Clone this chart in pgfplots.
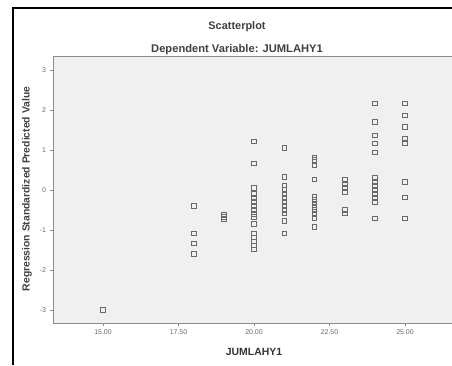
\documentclass[border=0pt]{standalone}
\usepackage{fontspec}
\setmainfont{Liberation Sans}
\usepackage{pgfplots}
\pgfplotsset{compat=1.18}
\usepackage{pgfplotstable}
\definecolor{plotbg}{HTML}{F0F0F0}
\definecolor{axisgray}{HTML}{8C8C8C}
\definecolor{markgray}{HTML}{6A6A6A}
\definecolor{ticktext}{HTML}{6A6A6A}
\pgfplotstableread{
x y
15 -3.00
18 -0.39
18 -1.08
18 -1.33
18 -1.60
19 -0.62
19 -0.67
19 -0.72
20 1.22
20 0.67
20 0.05
20 -0.10
20 -0.20
20 -0.30
20 -0.40
20 -0.50
20 -0.60
20 -0.67
20 -0.85
20 -1.08
20 -1.18
20 -1.28
20 -1.38
20 -1.48
21 1.05
21 0.33
21 0.12
21 0.00
21 -0.10
21 -0.20
21 -0.30
21 -0.40
21 -0.50
21 -0.58
21 -0.77
21 -1.08
22 0.82
22 0.75
22 0.62
22 0.27
22 -0.17
22 -0.25
22 -0.33
22 -0.42
22 -0.50
22 -0.60
22 -0.70
22 -0.92
23 0.25
23 0.15
23 0.05
23 -0.05
23 -0.50
23 -0.58
24 2.17
24 1.71
24 1.37
24 1.17
24 0.94
24 0.30
24 0.20
24 0.10
24 0.00
24 -0.10
24 -0.20
24 -0.29
24 -0.71
25 2.17
25 1.87
25 1.58
25 1.29
25 1.17
25 0.20
25 -0.18
25 -0.71
}\datatable
\begin{document}
\begin{tikzpicture}[x=1bp,y=1bp]
\begin{axis}[
  at={(53bp,42bp)}, anchor=south west,
  scale only axis, width=403bp, height=267bp,
  xmin=13.344, xmax=26.69, ymin=-3.325, ymax=3.35,
  axis background/.style={fill=plotbg},
  axis line style={axisgray, line width=0.9bp},
  xtick={15,17.5,20,22.5,25},
  xticklabels={15.00,17.50,20.00,22.50,25.00},
  ytick={-3,-2,-1,0,1,2,3},
  xtick pos=bottom, ytick pos=left,
  tick align=outside, major tick length=3bp,
  tick style={axisgray, line width=0.7bp},
  tick label style={font=\fontsize{7}{8}\selectfont, text=ticktext},
  /pgf/number format/assume math mode=true,
  xticklabel style={yshift=-0.5bp},
  yticklabel style={xshift=-0.5bp},
]
\addplot[only marks, mark=square, mark size=2.3bp,
  mark options={draw=markgray, line width=0.7bp, fill=none}]
  table[x=x, y=y] {\datatable};
\end{axis}
\draw[black, line width=1.6bp] (13,0) -- (13,357) -- (452,357);
\node[font=\bfseries\fontsize{11}{13}\selectfont, text=black!75] at (237,338) {Scatterplot};
\node[font=\bfseries\fontsize{11.2}{13}\selectfont, text=black!75] at (237,315) {Dependent Variable: JUMLAHY1};
\node[font=\bfseries\fontsize{10.5}{12}\selectfont, text=black!80] at (254,13) {JUMLAHY1};
\node[font=\bfseries\fontsize{10.4}{12}\selectfont, text=black!75, rotate=90] at (27,176) {Regression Standardized Predicted Value};
\pgfresetboundingbox
\path (0,0) rectangle (452,365);
\end{tikzpicture}
\end{document}
